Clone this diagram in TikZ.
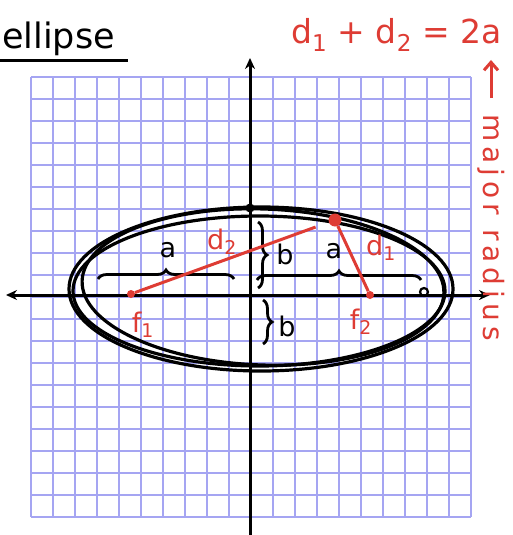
\documentclass[tikz,border=0pt]{standalone}
\usepackage{fontspec}
\setmainfont{DejaVu Sans}
\usetikzlibrary{decorations.pathreplacing,arrows.meta}
\definecolor{gridc}{RGB}{165,165,242}
\definecolor{inkred}{RGB}{222,60,52}
\tikzset{
  gridline/.style={gridc,line width=2.6pt},
  axisline/.style={black,line width=3pt,-{Stealth[length=11pt,width=10pt]}},
  curve/.style={black,line width=3.2pt},
  redline/.style={inkred,line width=3pt},
  reddot/.style={circle,fill=inkred,inner sep=0pt,minimum size=8pt},
  bigdot/.style={circle,fill=inkred,inner sep=0pt,minimum size=13pt},
  lab/.style={inner sep=0pt,font=\fontsize{27}{27}\selectfont},
  redlab/.style={lab,text=inkred},
  bracestyle/.style={black,line width=2.8pt,decorate,decoration={brace,amplitude=9pt}},
}
\begin{document}
\begin{tikzpicture}[x=1pt,y=-1pt]
\useasboundingbox (0,0) rectangle (513,535);
\fill[white] (0,0) rectangle (513,535);
% grid
\foreach \i in {0,...,20}{
  \draw[gridline] (31+22*\i,77) -- (31+22*\i,517);
  \draw[gridline] (31,77+22*\i) -- (471,77+22*\i);
}
% axes
\coordinate (ybot) at (250,535);
\coordinate (ytop) at (250,58);
\coordinate (xl) at (6,295);
\coordinate (xr) at (490,295);
\draw[axisline] (ybot) -- (ytop);
\draw[axisline,{Stealth[length=11pt,width=10pt]}-{Stealth[length=11pt,width=10pt]}] (xl) -- (xr);
% ellipse (hand-drawn, several strokes)
\draw[curve] (261,289) ellipse [x radius=192, y radius=82];
\draw[curve] (259,291) ellipse [x radius=186, y radius=75];
\draw[curve,rotate around={-2:(263,287)}] (263,287) ellipse [x radius=181, y radius=78];
\node[circle,fill=black,inner sep=0pt,minimum size=9pt] (topdot) at (250,208) {};
\node[circle,draw=black,line width=2.2pt,inner sep=0pt,minimum size=8pt] (vert) at (424,292) {};
% braces
\draw[bracestyle] (98,279) -- (234,279);
\draw[bracestyle] (257,280) -- (421,280);
\draw[bracestyle] (258,222) -- (258,288);
\draw[bracestyle] (263,300) -- (263,344);
% foci and point
\node[reddot] (f1) at (131,294) {};
\node[reddot] (f2) at (370,295) {};
\node[bigdot] (P) at (335,220) {};
\draw[redline,shorten >=14pt] (f1) -- (P);
\draw[redline] (P) -- (f2);
% labels
\node[lab] (a1) at (168,250) {a};
\node[lab] (a2) at (334,251) {a};
\node[lab] (b1) at (285,254) {b};
\node[lab] (b2) at (287,326) {b};
\node[redlab] (d2) at (222,242) {d\textsubscript{2}};
\node[redlab] (d1) at (381,248) {d\textsubscript{1}};
\node[redlab] (lf1) at (143,325) {f\textsubscript{1}};
\node[redlab] (lf2) at (361,322) {f\textsubscript{2}};
% title
\node[lab,anchor=south west,font=\fontsize{35}{35}\selectfont] (title) at (2,56) {ellipse};
\coordinate (ul) at (0,61);
\coordinate (ur) at (128,61);
\draw[black,line width=3pt] (ul) -- (ur);
% equation
\node[redlab,anchor=south west,font=\fontsize{33}{33}\selectfont] (eq) at (291,52) {d\textsubscript{1} + d\textsubscript{2} = 2a};
\coordinate (arrb) at (491,98);
\coordinate (arrt) at (491,60);
\draw[redline,-{Straight Barb[length=8pt,width=14pt]}] (arrb) -- (arrt);
\node[redlab,rotate=-90,anchor=west,font=\fontsize{28}{28}\selectfont\addfontfeature{LetterSpace=18}] (major) at (491,114) {major radius};
\end{tikzpicture}
\end{document}
